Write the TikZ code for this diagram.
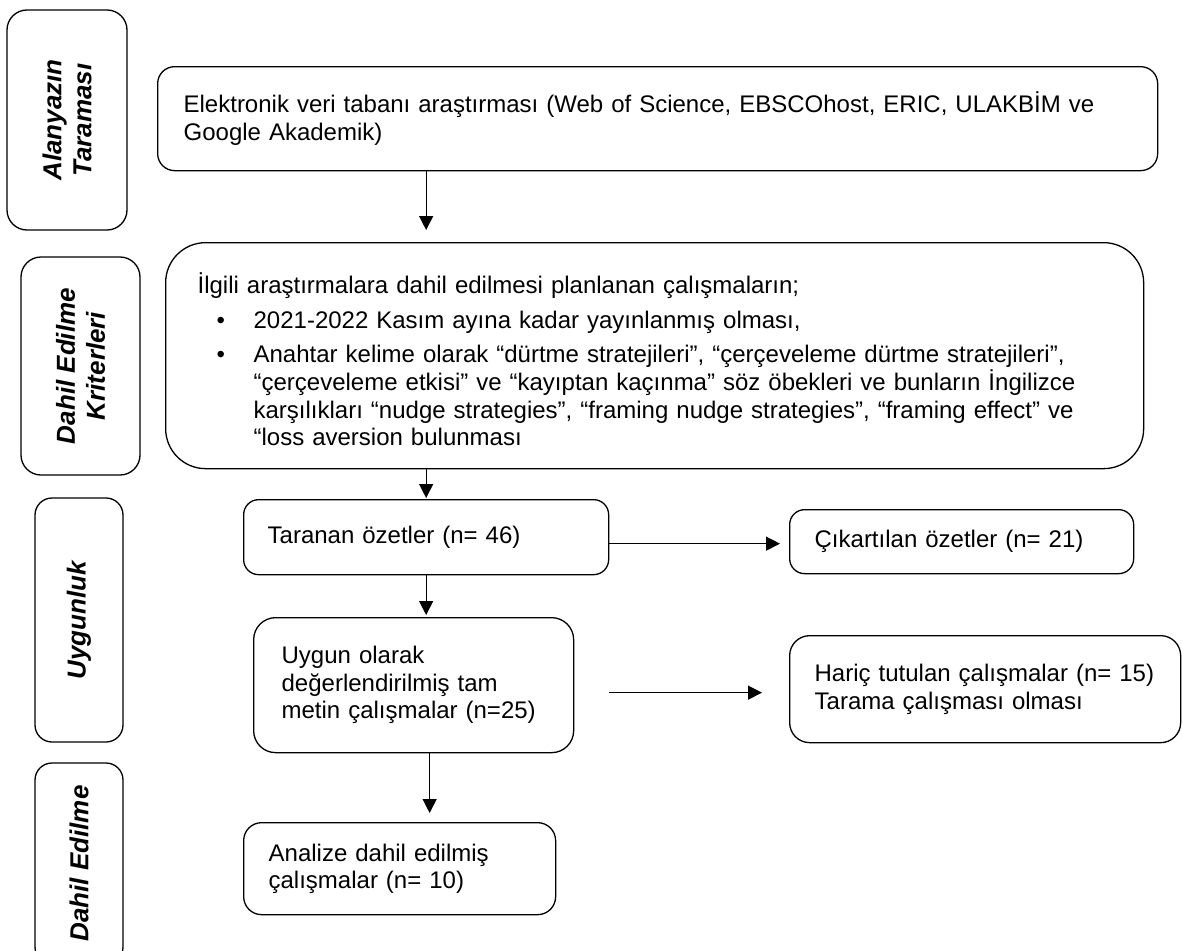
\documentclass[tikz,border=0pt]{standalone}
\usepackage{fontspec}
\setmainfont{Liberation Sans}
\usetikzlibrary{arrows.meta}
\begin{document}
\begin{tikzpicture}[x=1pt,y=-1pt,
  every node/.style={font=\fontsize{24}{27.6}\selectfont},
  flowbox/.style={draw, line width=1.3pt, anchor=north west, inner ysep=0pt, align=left},
  stagebox/.style={draw, line width=1.3pt, rotate=90, inner sep=0pt, align=center,
    font=\fontsize{26}{30}\selectfont\bfseries\itshape},
  arr/.style={line width=1.3pt, -{Triangle[width=14pt,length=14pt]}}
]
\useasboundingbox (0,0) rectangle (1182,950);

% stage labels on the left
\node[stagebox, rounded corners=20pt, minimum width=220pt, minimum height=120pt] (s1) at (67,120) {Alanyazın\\Taraması};
\node[stagebox, rounded corners=20pt, minimum width=218pt, minimum height=119pt] (s2) at (80.5,366) {Dahil Edilme\\Kriterleri};
\node[stagebox, rounded corners=17pt, minimum width=244pt, minimum height=88pt] (s3) at (79,620) {Uygunluk};
\node[stagebox, rounded corners=17pt, minimum width=201pt, minimum height=88pt] (s4) at (79,863.5) {Dahil Edilme};

% flow boxes
\node[flowbox, rounded corners=17pt, minimum width=1000pt, minimum height=104pt, inner xsep=26pt, text width=948pt] (search) at (157,66)
  {Elektronik veri tabanı araştırması (Web of Science, EBSCOhost, ERIC, ULAKBİM ve\\Google Akademik)};

\node[flowbox, rounded corners=40pt, minimum width=978pt, minimum height=226pt, inner xsep=32pt, text width=914pt,
      text height=20pt, text depth=144pt] (crit) at (165,242)
  {İlgili araştırmalara dahil edilmesi planlanan çalışmaların;\\[7pt]
   \makebox[56pt][l]{\hspace{19pt}•}2021-2022 Kasım ayına kadar yayınlanmış olması,\\[7pt]
   \makebox[56pt][l]{\hspace{19pt}•}Anahtar kelime olarak “dürtme stratejileri”, “çerçeveleme dürtme stratejileri”,\\
   \hspace*{56pt}“çerçeveleme etkisi” ve “kayıptan kaçınma” söz öbekleri ve bunların İngilizce\\
   \hspace*{56pt}karşılıkları “nudge strategies”, “framing nudge strategies”, “framing effect” ve\\
   \hspace*{56pt}“loss aversion bulunması};

\node[flowbox, rounded corners=15pt, minimum width=365pt, minimum height=75pt, inner xsep=24pt, text width=317pt] (tar) at (243,499)
  {Taranan özetler (n= 46)};

\node[flowbox, rounded corners=15pt, minimum width=344pt, minimum height=64pt, inner xsep=25pt, text width=294pt] (cik) at (789,509)
  {Çıkartılan özetler (n= 21)};

\node[flowbox, rounded corners=22pt, minimum width=320pt, minimum height=135pt, inner xsep=28pt, text width=264pt] (elig) at (253,617)
  {Uygun olarak\\değerlendirilmiş tam\\metin çalışmalar (n=25)};

\node[flowbox, rounded corners=20pt, minimum width=391pt, minimum height=107pt, inner xsep=25pt, text width=341pt] (har) at (789,635)
  {Hariç tutulan çalışmalar (n= 15)\\Tarama çalışması olması};

\node[flowbox, rounded corners=18pt, minimum width=312pt, minimum height=92pt, inner xsep=25pt, text width=262pt] (incl) at (243,822)
  {Analize dahil edilmiş\\çalışmalar (n= 10)};

% connectors
\draw[arr, shorten >=12pt] (search.south -| tar.north) -- (crit.north -| tar.north);
\draw[arr, shorten >=1pt] (crit.south -| tar.north) -- (tar.north);
\draw[arr, shorten >=2pt] (tar.south) -- (tar.south |- elig.north);
\draw[arr, shorten >=9pt] ([yshift=-6.5pt]tar.east) -- ([yshift=-6.5pt]tar.east -| cik.west);
\draw[arr, shorten <=35pt, shorten >=27pt] ([yshift=-7.5pt]elig.east) -- ([yshift=-7.5pt]elig.east -| har.west);
\draw[arr, shorten >=9pt] ([xshift=16pt]elig.south) -- ([xshift=16pt]elig.south |- incl.north);
\end{tikzpicture}
\end{document}
